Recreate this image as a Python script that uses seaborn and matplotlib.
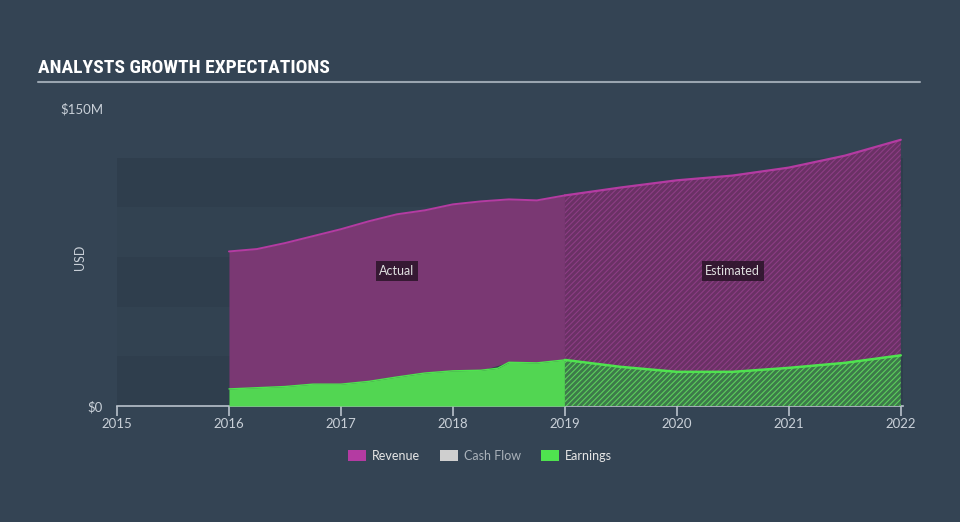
import matplotlib
matplotlib.use("Agg")
import matplotlib.pyplot as plt
import seaborn as sns
import numpy as np
import pandas as pd
from matplotlib.patches import Patch
from matplotlib import font_manager as fm

# ---- data ----
rev_years = [2016.0, 2016.25, 2016.5, 2016.75, 2017.0, 2017.25, 2017.5, 2017.75,
             2018.0, 2018.25, 2018.5, 2018.75, 2019.0]
rev_vals = [77.8, 79.0, 82.0, 85.5, 89.0, 93.0, 96.5, 98.5, 101.5, 103.0, 104.0, 103.5, 106.0]
rev_est_years = [2019.0, 2019.5, 2020.0, 2020.5, 2021.0, 2021.5, 2022.0]
rev_est_vals = [106.0, 110.0, 113.6, 116.0, 120.0, 126.0, 134.0]

earn_years = [2016.0, 2016.25, 2016.5, 2016.75, 2017.0, 2017.25, 2017.5, 2017.75,
              2018.0, 2018.25, 2018.4, 2018.5, 2018.75, 2019.0]
earn_vals = [8.6, 9.2, 9.8, 11.0, 11.0, 12.4, 14.6, 16.6, 17.7, 18.0, 19.0, 22.0, 21.7, 23.2]
earn_est_years = [2019.0, 2019.5, 2020.0, 2020.5, 2021.0, 2021.5, 2022.0]
earn_est_vals = [23.2, 19.7, 17.2, 17.2, 19.2, 21.7, 25.5]

x_ticks = [2015, 2016, 2017, 2018, 2019, 2020, 2021, 2022]
y_ticks = [0, 150]
y_tick_labels = ["$0", "$150M"]
legend_labels = ["Revenue", "Cash Flow", "Earnings"]

# ---- style ----
BG = "#344454"
BAND_DARK = "#2f3e4d"
BAND_LIGHT = "#324251"
TXT = "#c9d0d8"
REV_FILL = "#7a3873"
REV_LINE = "#b43ba2"
EARN_FILL = "#52d652"
EARN_LINE = "#4fe34f"

sns.set_theme(style="dark")
plt.rcParams["font.family"] = ["Lato", "DejaVu Sans"]
plt.rcParams["hatch.linewidth"] = 0.8

names = {f.name for f in fm.fontManager.ttflist}
title_family = None
for cand in ["Liberation Sans Narrow", "DejaVu Sans Condensed", "Roboto Condensed",
             "Open Sans Condensed"]:
    if cand in names:
        title_family = cand
        break

fig = plt.figure(figsize=(9.6, 5.22), dpi=100, facecolor=BG)
ax = fig.add_axes([117/960, 1-406/522, (903-117)/960, 298/522])
ax.set_facecolor(BG)
ax.set_xlim(2015, 2022.02)
ax.set_ylim(0, 150)

# background bands
for i, lo in enumerate(range(0, 125, 25)):
    ax.axhspan(lo, lo + 25, xmin=0, xmax=1, color=BAND_DARK if i % 2 == 0 else BAND_LIGHT,
               lw=0, zorder=0)

df_rev = pd.DataFrame({"year": rev_years, "value": rev_vals})
df_rev_est = pd.DataFrame({"year": rev_est_years, "value": rev_est_vals})
df_earn = pd.DataFrame({"year": earn_years, "value": earn_vals})
df_earn_est = pd.DataFrame({"year": earn_est_years, "value": earn_est_vals})

# revenue actual
ax.fill_between(df_rev["year"], np.interp(df_rev["year"], earn_years, earn_vals),
                df_rev["value"], color=REV_FILL, lw=0, zorder=2)
# revenue estimated (hatched)
ax.fill_between(df_rev_est["year"], np.interp(rev_est_years, earn_est_years, earn_est_vals),
                df_rev_est["value"], facecolor="#6a3165", edgecolor="#8c3d84",
                hatch="//////", lw=0, zorder=2)
# earnings actual
ax.fill_between(df_earn["year"], 0, df_earn["value"], color=EARN_FILL, lw=0, zorder=3)
# earnings estimated (hatched)
ax.fill_between(df_earn_est["year"], 0, df_earn_est["value"], facecolor="#3d7a4a",
                edgecolor="#5ccf5c", hatch="//////", lw=0, zorder=3)

sns.lineplot(data=df_rev, x="year", y="value", ax=ax, color=REV_LINE, lw=1.4, zorder=4)
sns.lineplot(data=df_rev_est, x="year", y="value", ax=ax, color=REV_LINE, lw=1.6, zorder=4)
sns.lineplot(data=df_earn, x="year", y="value", ax=ax, color=EARN_LINE, lw=1.0, zorder=4)
sns.lineplot(data=df_earn_est, x="year", y="value", ax=ax, color=EARN_LINE, lw=1.8, zorder=4)

# annotations
for xx, label in [(2017.5, "Actual"), (2020.5, "Estimated")]:
    ax.text(xx, 68, label, ha="center", va="center", color="#e0e0e0", fontsize=9,
            zorder=6, bbox=dict(boxstyle="square,pad=0.3", facecolor="#2a1428",
                                edgecolor="none", alpha=0.85))

# axes styling
for s in ["top", "right", "left"]:
    ax.spines[s].set_visible(False)
ax.spines["bottom"].set_color("#b9c2cc")
ax.spines["bottom"].set_linewidth(1.2)
ax.set_xticks(x_ticks)
ax.set_xticklabels([str(t) for t in x_ticks])
ax.set_yticks(y_ticks)
ax.set_yticklabels(y_tick_labels)
ax.tick_params(axis="x", colors="#b9c2cc", length=7, width=1.2, direction="out",
               labelsize=9.5, labelcolor=TXT, pad=2, bottom=True)
ax.tick_params(axis="y", length=0, labelsize=9.5, labelcolor=TXT, pad=10)
ax.set_xlabel("")
ax.set_ylabel("USD", color=TXT, fontsize=9)
ax.yaxis.set_label_coords((86-117)/786, 0.5)
ax.grid(False)

# title and rule
if title_family:
    fig.text(38/960, 1-68/522, "ANALYSTS GROWTH EXPECTATIONS", color="white", fontsize=14,
             fontweight="bold", family=[title_family, "DejaVu Sans"], ha="left", va="center")
else:
    fig.text(38/960, 1-68/522, "ANALYSTS GROWTH EXPECTATIONS", color="white", fontsize=12,
             fontweight="bold", fontstretch="condensed", family=["DejaVu Sans"],
             ha="left", va="center")
fig.add_artist(plt.Line2D([38/960, 920/960], [1-82/522, 1-82/522], color="#9aa5b0",
                          lw=1.5))

# legend
handles = [Patch(facecolor=REV_LINE, edgecolor="none"),
           Patch(facecolor="#cfcfcf", edgecolor="none"),
           Patch(facecolor=EARN_LINE, edgecolor="none")]
leg = fig.legend(handles, legend_labels, loc="center", bbox_to_anchor=(0.5, 1-456/522),
                 ncol=3, frameon=False, fontsize=9, handlelength=1.4, handleheight=1.0,
                 columnspacing=1.6, handletextpad=0.5)
for t, c in zip(leg.get_texts(), ["#e6e6e6", "#aab2ba", "#e6e6e6"]):
    t.set_color(c)

fig.savefig("out.png", dpi=100, facecolor=BG)
